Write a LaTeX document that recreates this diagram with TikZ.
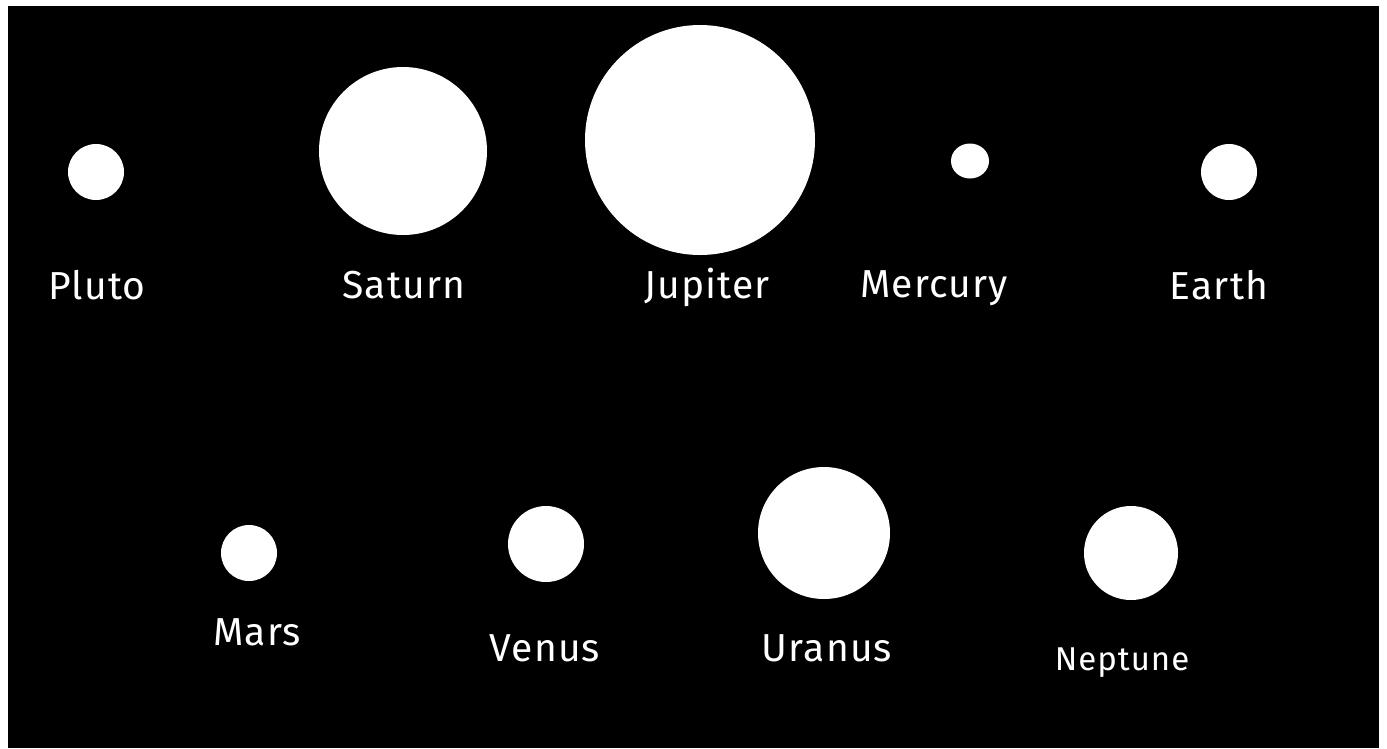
\documentclass[tikz,border=0pt]{standalone}
\usepackage{fontspec}
\usetikzlibrary{shapes.geometric}
\setmainfont{Fira Sans}
\begin{document}
\begin{tikzpicture}[x=1pt,y=-1pt,
  planet/.style={circle,fill=white,draw=none,inner sep=0pt},
  lbl/.style={text=white,font=\fontsize{39}{46}\selectfont\addfontfeatures{LetterSpace=3},anchor=center}]
\useasboundingbox (0,0) rectangle (1387,748);
\fill[white] (0,0) rectangle (1387,748);
\fill[black] (8,6) rectangle (1379,748);
% planets
\node[planet,minimum size=56] (pluto) at (96,172) {};
\node[planet,minimum size=168] (saturn) at (403,151) {};
\node[planet,minimum size=230] (jupiter) at (700,140) {};
\node[planet,ellipse,minimum width=38,minimum height=35] (mercury) at (970,161) {};
\node[planet,minimum size=56] (earth) at (1229,172) {};
\node[planet,minimum size=56] (mars) at (249,553) {};
\node[planet,minimum size=76] (venus) at (546,544) {};
\node[planet,minimum size=132] (uranus) at (824,533) {};
\node[planet,minimum size=94] (neptune) at (1131,553) {};
% labels
\node[lbl] (lpluto) at (97,285) {Pluto};
\node[lbl] (lsaturn) at (404,285) {Saturn};
\node[lbl] (ljupiter) at (707,287) {Jupiter};
\node[lbl] (lmercury) at (934,288) {Mercury};
\node[lbl] (learth) at (1219,285) {Earth};
\node[lbl] (lmars) at (257,632) {Mars};
\node[lbl] (lvenus) at (545,648) {Venus};
\node[lbl] (luranus) at (827,648) {Uranus};
\node[lbl,font=\fontsize{33}{40}\selectfont\addfontfeatures{LetterSpace=3}] (lneptune) at (1122,663) {Neptune};
\end{tikzpicture}
\end{document}
